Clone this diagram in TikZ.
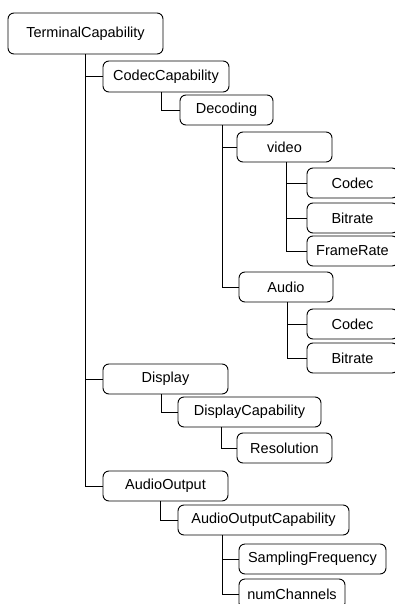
\documentclass[tikz,border=0pt]{standalone}
\usepackage{fontspec}
\setmainfont{Liberation Sans}
\begin{document}
\begin{tikzpicture}[x=1pt,y=-1pt,
  box/.style={draw=black, rounded corners=6pt, fill=white, inner sep=0pt, line width=0.9pt,
    font=\fontsize{14.5}{17}\selectfont, text=black},
  link/.style={draw=black, line width=0.9pt}]
\useasboundingbox (0,0) rectangle (394,604);
% nodes
\node[box, minimum width=155pt, minimum height=41pt] (tc) at (85.5,33.5) {TerminalCapability};
\node[box, minimum width=126pt, minimum height=31pt] (cc) at (166,76.5) {CodecCapability};
\node[box, minimum width=93pt, minimum height=30pt] (dec) at (226.5,110) {Decoding};
\node[box, minimum width=95pt, minimum height=30pt] (vid) at (284.5,147) {video};
\node[box, minimum width=91pt, minimum height=30pt] (c1) at (352.5,183) {Codec};
\node[box, minimum width=91pt, minimum height=30pt] (b1) at (352.5,218) {Bitrate};
\node[box, minimum width=91pt, minimum height=30pt] (fr) at (352.5,251) {FrameRate};
\node[box, minimum width=94pt, minimum height=30pt] (au) at (286,287) {Audio};
\node[box, minimum width=91pt, minimum height=30pt] (c2) at (352.5,324) {Codec};
\node[box, minimum width=91pt, minimum height=30pt] (b2) at (352.5,358) {Bitrate};
\node[box, minimum width=125pt, minimum height=30pt] (dp) at (165.5,379) {Display};
\node[box, minimum width=143pt, minimum height=30pt] (dc) at (249.5,412) {DisplayCapability};
\node[box, minimum width=95pt, minimum height=30pt] (res) at (284.5,448) {Resolution};
\node[box, minimum width=125pt, minimum height=30pt] (ao) at (165.5,486) {AudioOutput};
\node[box, minimum width=171pt, minimum height=30pt] (aoc) at (263.5,520) {AudioOutputCapability};
\node[box, minimum width=147pt, minimum height=30pt] (sf) at (312.5,559) {SamplingFrequency};
\node[box, minimum width=106pt, minimum height=30pt] (nc) at (292,594) {numChannels};
% vertical line positions
\coordinate (xt) at (85,0);
\coordinate (xcc) at (161,0);
\coordinate (xdec) at (222,0);
\coordinate (xvid) at (286,0);
\coordinate (xau) at (287,0);
\coordinate (xdp) at (161,0);
\coordinate (xdc) at (221,0);
\coordinate (xao) at (160,0);
\coordinate (xaoc) at (222,0);
% connectors
\draw[link] (xt |- tc.south) |- (ao.west);
\draw[link] (xt |- cc.west) -- (cc.west);
\draw[link] (xt |- dp.west) -- (dp.west);
\draw[link] (xcc |- cc.south) |- (dec.west);
\draw[link] (xdec |- dec.south) |- (au.west);
\draw[link] (xdec |- vid.west) -- (vid.west);
\draw[link] (xvid |- vid.south) |- (fr.west);
\draw[link] (xvid |- c1.west) -- (c1.west);
\draw[link] (xvid |- b1.west) -- (b1.west);
\draw[link] (xau |- au.south) |- (b2.west);
\draw[link] (xau |- c2.west) -- (c2.west);
\draw[link] (xdp |- dp.south) |- (dc.west);
\draw[link] (xdc |- dc.south) |- (res.west);
\draw[link] (xao |- ao.south) |- (aoc.west);
\draw[link] (xaoc |- aoc.south) |- (nc.west);
\draw[link] (xaoc |- sf.west) -- (sf.west);
\end{tikzpicture}
\end{document}
